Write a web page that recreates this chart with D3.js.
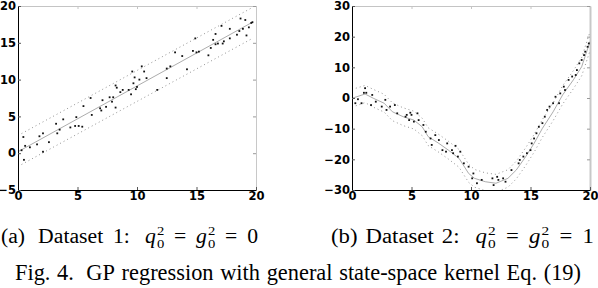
<!DOCTYPE html>
<html>
<head>
<meta charset="utf-8">
<script src="https://cdn.jsdelivr.net/npm/d3@7"></script>
<style>
  body { margin: 0; background: #fff; }
  svg { display: block; }
  .tick text { font-family: "DejaVu Sans", sans-serif; font-weight: bold; font-size: 11.5px; fill: #000; }
  .cap text { font-family: "Liberation Serif", "Times New Roman", serif; fill: #000; }
</style>
</head>
<body>
<svg id="chart" width="598" height="288"></svg>
<script>
/* data */

// panel (a): noisy samples around a straight line
const aX = [0.3, 0.45, 0.5, 0.6, 1.0, 1.6, 1.8, 2.1, 2.1, 2.6, 3.2, 3.3, 3.5, 3.8, 4.4, 4.8, 4.9, 5.1, 5.4, 5.5,
  6.1, 6.2, 6.9, 7.0, 7.1, 7.4, 7.7, 7.9, 8.0, 8.2, 8.3, 8.2, 8.6, 8.8, 9.3, 9.5, 9.6, 9.7, 9.8, 9.9,
  10.0, 10.2, 10.4, 10.6, 10.8, 11.7, 12.5, 12.5, 12.8, 13.2, 13.8, 14.2, 14.7, 15.0, 15.2, 14.9, 16.0, 16.2, 16.4, 16.6,
  16.6, 16.8, 17.1, 17.2, 17.3, 17.8, 17.8, 18.4, 18.6, 18.7, 18.9, 19.2, 19.4, 19.6, 19.7, 19.1];
const aY = [0.4, 2.2, -0.9, 1.0, 0.8, 1.2, 2.3, 2.7, 0.2, 1.5, 4.0, 2.7, 3.2, 4.6, 3.5, 3.7, 4.9, 3.7, 3.6, 6.4,
  7.5, 5.2, 6.1, 5.8, 7.2, 6.3, 7.6, 7.0, 7.6, 9.2, 8.9, 6.2, 8.3, 8.6, 8.6, 8.0, 11.1, 9.5, 10.3, 8.7,
  9.0, 10.0, 11.8, 11.1, 10.2, 8.6, 11.5, 10.2, 11.8, 13.7, 13.2, 11.4, 13.9, 13.7, 13.8, 15.6, 13.3, 14.3, 15.4, 16.2,
  14.8, 14.9, 17.3, 14.9, 15.2, 15.6, 16.9, 16.1, 16.6, 18.3, 16.9, 16.0, 17.1, 17.7, 17.8, 18.1];
const aFitX = [0, 19.7];
const aMean = [0.2, 17.8];
const aUpper = [2.4, 19.8];
const aLower = [-1.8, 15.6];

// panel (b): samples along a curved trend
const bX = [0.28, 0.5, 1.0, 1.2, 1.1, 0.8, 1.7, 2.0, 1.6, 2.5, 2.8, 3.2, 2.9, 3.6, 3.8, 4.5, 4.6, 4.8, 5.0, 5.2,
  4.9, 5.6, 5.5, 6.0, 6.2, 6.6, 6.7, 7.0, 7.3, 7.6, 8.0, 7.9, 8.4, 8.5, 8.7, 8.9, 9.1, 9.4, 9.8, 10.2,
  10.1, 10.5, 10.9, 11.8, 11.9, 12.2, 12.3, 12.7, 12.9, 13.4, 14.0, 14.1, 14.4, 14.7, 15.0, 15.1, 15.3, 15.5, 15.7, 16.0,
  16.2, 16.4, 16.6, 16.9, 17.1, 17.4, 17.5, 17.8, 17.9, 18.2, 18.5, 18.8, 18.9, 19.1, 19.3, 19.5, 19.6, 19.8, 19.9];
const bY = [-1.7, -0.4, 1.7, 1.7, 3.2, -1.7, 1.0, -1.2, -2.3, -2.8, -0.6, -2.8, -3.9, -2.3, -5.0, -6.1, -5.5, -7.2, -5.5, -7.7,
  -4.8, -7.2, -5.0, -8.8, -11.0, -13.2, -15.3, -12.1, -13.7, -17.0, -14.8, -17.5, -17.0, -18.0, -15.6, -19.1, -17.5, -21.3, -22.4, -24.6,
  -26.2, -27.8, -26.7, -26.2, -28.4, -25.7, -26.7, -26.2, -27.3, -23.5, -21.3, -20.2, -19.1, -18.0, -17.0, -14.8, -13.2, -11.5, -9.4, -8.2,
  -6.1, -3.9, -2.8, -1.7, 0.4, -1.7, 1.5, 3.7, 2.6, 5.9, 7.0, 7.5, 9.1, 11.3, 12.4, 14.0, 15.1, 16.7, 17.8];
const bFitX = [0, 1.1, 1.8, 2.7, 3.4, 4.3, 5.2, 5.9, 6.4, 7.3, 8.1, 9.0, 9.8, 10.3, 11.2, 12.1, 13.1, 13.8,
  14.6, 15.3, 16.0, 16.9, 17.7, 18.6, 19.3, 20.0];
const bMean = [-0.1, 1.3, -0.1, -1.7, -4.5, -6.1, -7.2, -9.4, -12.6, -14.8, -17.0, -19.7, -24.6, -26.2, -27.3, -27.8, -26.2, -23.5,
  -19.1, -14.8, -9.9, -4.5, 1.0, 5.9, 10.2, 18.4];
const bUpper = [2.8, 4.1, 2.8, 1.2, -1.6, -3.2, -4.3, -6.6, -9.7, -11.9, -14.1, -16.8, -21.6, -23.3, -24.4, -24.9, -23.4, -20.6,
  -16.2, -11.9, -7.0, -1.6, 4.0, 8.9, 13.2, 21.6];
const bLower = [-3.0, -1.5, -3.0, -4.6, -7.4, -9.0, -10.1, -12.3, -15.5, -17.7, -19.9, -22.6, -27.5, -29.1, -30.2, -30.7, -29.1, -26.4,
  -22.0, -17.7, -12.8, -7.4, -2.0, 3.0, 7.2, 15.4];

const xTicks = [0, 5, 10, 15, 20];
const aYTicks = [-5, 0, 5, 10, 15, 20];
const bYTicks = [-30, -20, -10, 0, 10, 20, 30];

const svg = d3.select("#chart");

function panel(left, right, yDomain, yTicks, xs, ys, fitX, mean, upper, lower, rightW) {
  const top = 6, bottom = 190;
  const x = d3.scaleLinear().domain([0, 20]).range([left, right]);
  const y = d3.scaleLinear().domain(yDomain).range([bottom, top]);
  const g = svg.append("g");

  const clipId = "clip" + left;
  g.append("clipPath").attr("id", clipId)
    .append("rect").attr("x", left).attr("y", top).attr("width", right - left).attr("height", bottom - top);

  // grey top / right frame with inward ticks
  g.append("g").attr("transform", "translate(0," + top + ")")
    .call(d3.axisTop(x).tickValues(xTicks).tickSize(-3).tickSizeOuter(0).tickFormat(""))
    .call(a => a.selectAll("line,path").attr("stroke", "#c4c4c4"));
  g.append("g").attr("transform", "translate(" + right + ",0)")
    .call(d3.axisRight(y).tickValues(yTicks).tickSize(-3).tickSizeOuter(0).tickFormat(""))
    .call(a => a.selectAll("line").attr("stroke", "#999"))
    .call(a => a.select("path").attr("stroke", "#c8c8c8").attr("stroke-width", rightW));

  const plot = g.append("g").attr("clip-path", "url(#" + clipId + ")");
  const line = (vals) => d3.line().x((d, i) => x(fitX[i])).y(d => y(d))(vals);

  plot.append("path").attr("d", line(upper))
    .attr("fill", "none").attr("stroke", "#777").attr("stroke-width", 0.8).attr("stroke-dasharray", "1,3");
  plot.append("path").attr("d", line(lower))
    .attr("fill", "none").attr("stroke", "#777").attr("stroke-width", 0.8).attr("stroke-dasharray", "1,3");
  plot.append("path").attr("d", line(mean))
    .attr("fill", "none").attr("stroke", "#888").attr("stroke-width", 0.7);

  plot.selectAll("rect.pt").data(xs).enter().append("rect").attr("class", "pt")
    .attr("x", (d, i) => x(d) - 0.9)
    .attr("y", (d, i) => y(ys[i]) - 0.9)
    .attr("width", 1.8).attr("height", 1.8)
    .attr("fill", "#111");

  // black bottom / left axes
  g.append("g").attr("transform", "translate(0," + bottom + ")")
    .call(d3.axisBottom(x).tickValues(xTicks).tickSize(-3).tickSizeOuter(0).tickPadding(2))
    .call(a => a.selectAll("line").attr("stroke", "#555"))
    .call(a => a.select("path").attr("stroke", "#000"));
  g.append("g").attr("transform", "translate(" + left + ",0)")
    .call(d3.axisLeft(y).tickValues(yTicks).tickSize(-3).tickSizeOuter(0).tickPadding(2))
    .call(a => a.selectAll("line").attr("stroke", "#555"))
    .call(a => a.select("path").attr("stroke", "#000"));
}

panel(18, 256, [-5, 20], aYTicks, aX, aY, aFitX, aMean, aUpper, aLower, 1);
panel(352, 590, [-30, 30], bYTicks, bX, bY, bFitX, bMean, bUpper, bLower, 2);

// captions: tokens laid out left to right, scripts stacked, then fitted to width
function caption(x0, y0, width, fs, tokens) {
  const g = svg.append("g").attr("class", "cap");
  let cx = 0, stackW = 0;
  tokens.forEach(p => {
    cx += p.gap || 0;
    const t = g.append("text")
      .attr("x", cx).attr("y", p.dy || 0)
      .style("font-size", (p.size || fs) + "px")
      .style("font-style", p.it ? "italic" : "normal")
      .text(p.t);
    const w = t.node().getComputedTextLength();
    if (p.stack) { stackW = w; }
    else { cx += Math.max(w, stackW); stackW = 0; }
  });
  const s = width / cx;
  g.attr("transform", "translate(" + x0 + "," + y0 + ") scale(" + s + ",1)");
}

function eqTokens(label, lg, dataset, dg, num) {
  const ss = 13.5;
  return [
    { t: label },
    { t: "Dataset", gap: lg },
    { t: dataset + ":", gap: dg },
    { t: "q", it: true, gap: 14 },
    { t: "2", size: ss, dy: -8, stack: true, gap: 1 },
    { t: "0", size: ss, dy: 5 },
    { t: "=", gap: 9 },
    { t: "g", it: true, gap: 9 },
    { t: "2", size: ss, dy: -8, stack: true, gap: 1 },
    { t: "0", size: ss, dy: 5 },
    { t: "=", gap: 9 },
    { t: num, gap: 9 }
  ];
}

caption(1, 243, 257, 20, eqTokens("(a)", 12, "1", 9, "0"));
caption(331, 243, 263, 20, eqTokens("(b)", 7, "2", 7, "1"));

const figWords = ["Fig.", "4.", "GP", "regression", "with", "general", "state-space", "kernel", "Eq.", "(19)"];
caption(15, 280, 566, 23.5, figWords.map((w, i) => ({ t: w, gap: i === 0 ? 0 : (i === 2 ? 13 : 7) })));
</script>
</body>
</html>
